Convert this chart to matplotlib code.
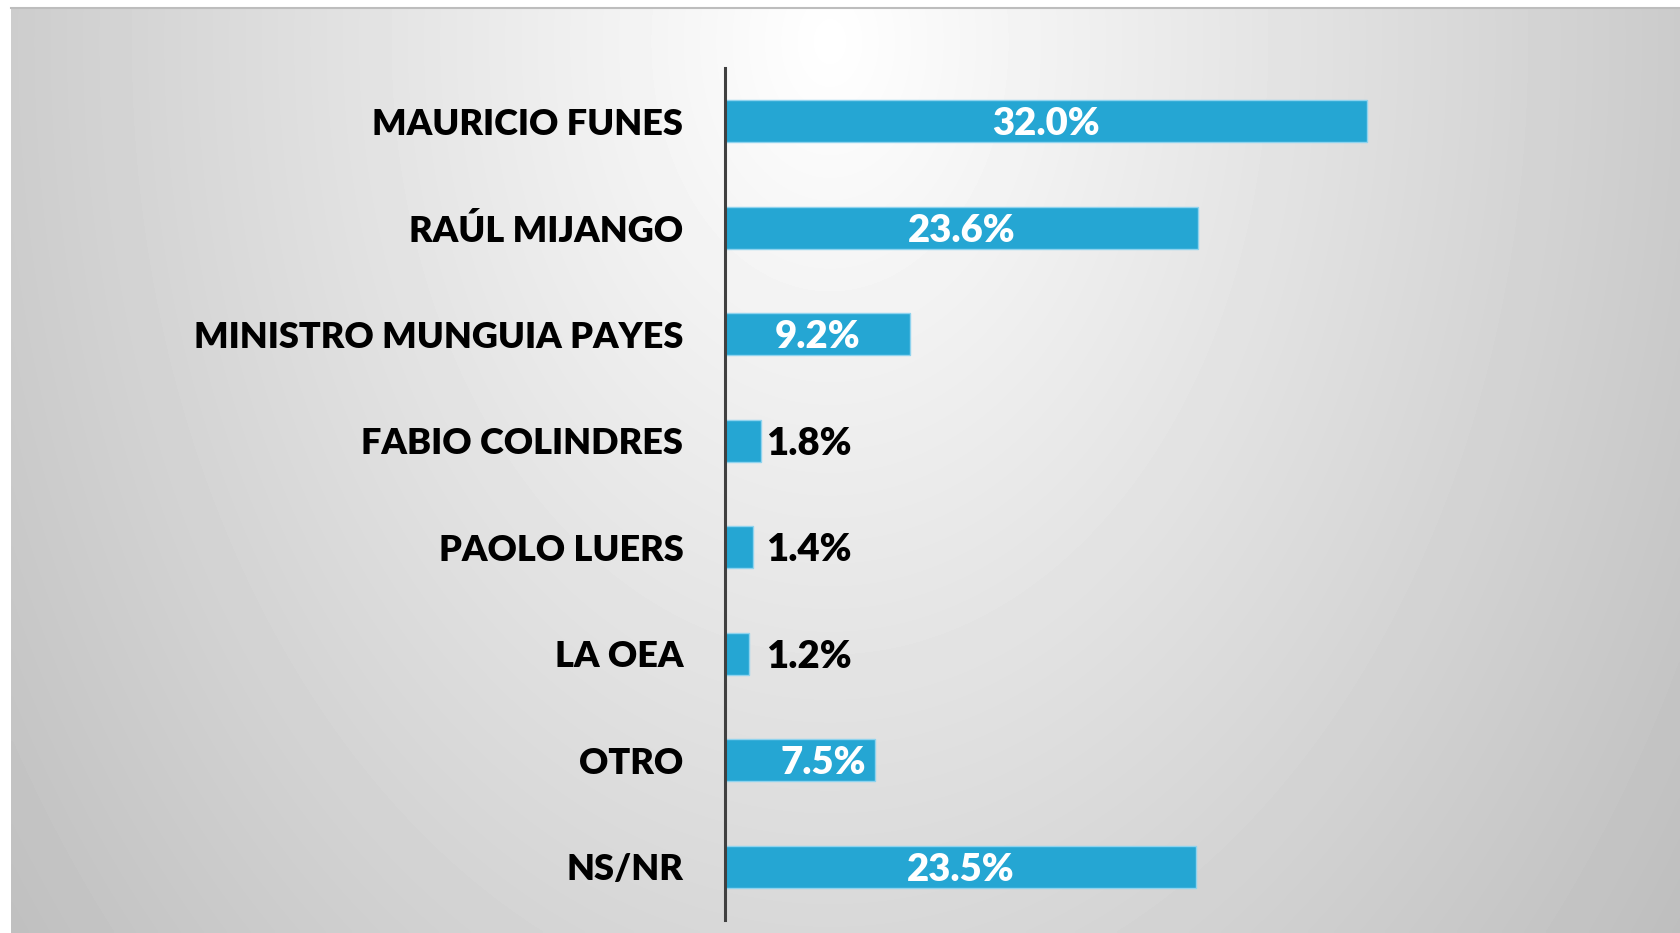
"""
Encuesta - ¿Quién es el responsable de la tregua?
Barras horizontales con etiquetas de porcentaje.
"""

import numpy as np
import matplotlib.pyplot as plt

# -----------------------------------------------------------
# 1. Datos
# -----------------------------------------------------------
categorias = [
    "MAURICIO FUNES",
    "RAÚL MIJANGO",
    "MINISTRO MUNGUIA PAYES",
    "FABIO COLINDRES",
    "PAOLO LUERS",
    "LA OEA",
    "OTRO",
    "NS/NR",
]
porcentajes = [32.0, 23.6, 9.2, 1.8, 1.4, 1.2, 7.5, 23.5]

AZUL = "#25a6d3"
BORDE = "#8fd3ee"
FUENTE = ["Lato", "DejaVu Sans"]
PESO = "heavy"

plt.rcParams["font.family"] = FUENTE

fig = plt.figure(figsize=(16.81, 9.33), dpi=100)
W, H = 1681, 933

# -----------------------------------------------------------
# 2. Fondo con degradado radial (como la diapositiva original)
# -----------------------------------------------------------
fondo = fig.add_axes([11 / W, 0, 1 - 11 / W, (H - 8) / H])
xx, yy = np.meshgrid(np.linspace(11, W, 400), np.linspace(8, H, 250))
r = np.sqrt(((xx - 830) / 1000) ** 2 + ((yy - 40) / 1400) ** 2)
tono = np.clip(1 - 0.24 * r, 0.74, 1)
fondo.imshow(tono, cmap="gray", vmin=0, vmax=1, aspect="auto",
             extent=[0, 1, 0, 1], interpolation="bilinear")
fondo.axis("off")

# linea gris superior
fig.add_artist(plt.Line2D([11 / W, 1], [(H - 7.5) / H] * 2,
                          color="#bdbdbd", lw=1.5))

# -----------------------------------------------------------
# 3. Gráfico de barras
# -----------------------------------------------------------
ax = fig.add_axes([725 / W, 13 / H, (W - 725) / W, 852 / H])
ax.patch.set_alpha(0)

y = np.arange(len(categorias))
barras = ax.barh(y, porcentajes, height=0.394, color=AZUL,
                 edgecolor=BORDE, linewidth=1.0)

ax.set_xlim(0, (W - 725) / 20.06)
ax.set_ylim(len(categorias) - 0.5, -0.5)

ax.set_yticks(y)
ax.set_yticklabels(categorias, fontsize=26, fontweight=PESO, color="black")
ax.tick_params(axis="y", length=0, pad=30)
ax.set_xticks([])

for lado in ["top", "right", "bottom"]:
    ax.spines[lado].set_visible(False)
ax.spines["left"].set_color("#404040")
ax.spines["left"].set_linewidth(2.2)

# Etiquetas: dentro (blanco) en las barras grandes, fuera (negro) en las pequeñas
TAM = 27.5
for pos, valor in zip(y, porcentajes):
    texto = f"{valor:.1f}%"
    if valor < 3:
        ax.text(2.05, pos + 0.03, texto, ha="left", va="center",
                fontsize=TAM, fontweight=PESO, color="black")
    elif categorias[pos] == "OTRO":
        ax.text(valor - 0.45, pos + 0.03, texto, ha="right", va="center",
                fontsize=TAM, fontweight=PESO, color="white")
    else:
        ax.text(valor / 2, pos + 0.03, texto, ha="center", va="center",
                fontsize=TAM, fontweight=PESO, color="white")

plt.savefig("out.png", dpi=100, facecolor="white")
plt.close()
